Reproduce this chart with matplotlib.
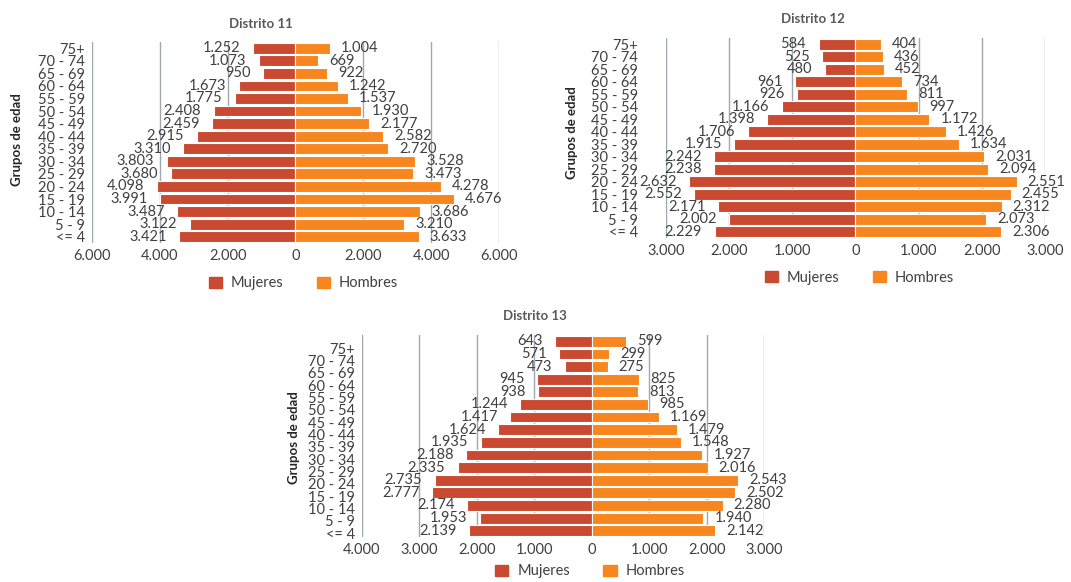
import matplotlib.pyplot as plt
import numpy as np
from matplotlib.patches import Patch
from matplotlib.ticker import FuncFormatter

# Grupos de edad (de abajo hacia arriba)
grupos = ['<= 4', '5 - 9', '10 - 14', '15 - 19', '20 - 24', '25 - 29', '30 - 34', '35 - 39',
          '40 - 44', '45 - 49', '50 - 54', '55 - 59', '60 - 64', '65 - 69', '70 - 74', '75+']

# Distrito 11
d11_mujeres = [3421, 3122, 3487, 3991, 4098, 3680, 3803, 3310, 2915, 2459, 2408, 1775, 1673, 950, 1073, 1252]
d11_hombres = [3633, 3210, 3686, 4676, 4278, 3473, 3528, 2720, 2582, 2177, 1930, 1537, 1242, 922, 669, 1004]

# Distrito 12
d12_mujeres = [2229, 2002, 2171, 2552, 2632, 2238, 2242, 1915, 1706, 1398, 1166, 926, 961, 480, 525, 584]
d12_hombres = [2306, 2073, 2312, 2455, 2551, 2094, 2031, 1634, 1426, 1172, 997, 811, 734, 452, 436, 404]

# Distrito 13
d13_mujeres = [2139, 1953, 2174, 2777, 2735, 2335, 2188, 1935, 1624, 1417, 1244, 938, 945, 473, 571, 643]
d13_hombres = [2142, 1940, 2280, 2502, 2543, 2016, 1927, 1548, 1479, 1169, 985, 813, 825, 275, 299, 599]

C_MUJ = '#C94A30'
C_HOM = '#F7861E'
TXT = '#404040'
GRID = '#9EA8B0'
FS = 10.5

plt.rcParams['font.family'] = ['Lato', 'DejaVu Sans']


def miles(v, pos=None):
    # 4000 -> "4.000", valores negativos sin signo
    return f'{abs(int(round(v))):,}'.replace(',', '.')


def piramide(ax, muj, hom, lim_izq, lim_der, paso, pad_y, leg_x, leg_y=-0.2, tick_pos=None):
    y = np.arange(len(grupos))
    muj = np.array(muj)
    hom = np.array(hom)

    ticks = np.arange(-lim_izq, lim_der + 1, paso)
    for t in ticks:
        if t != 0:
            ax.axvline(t, color=GRID, lw=1, zorder=0)

    ax.barh(y, -muj, height=0.86, color=C_MUJ, edgecolor='white', linewidth=0.8, zorder=2)
    ax.barh(y, hom, height=0.86, color=C_HOM, edgecolor='white', linewidth=0.8, zorder=2)

    for yi, m, h in zip(y, muj, hom):
        ax.annotate(miles(m), (-m, yi), xytext=(-9, 0), textcoords='offset points',
                    ha='right', va='center', fontsize=FS, color=TXT, zorder=3)
        ax.annotate(miles(h), (h, yi), xytext=(8, 0), textcoords='offset points',
                    ha='left', va='center', fontsize=FS, color=TXT, zorder=3)

    ax.set_xlim(-lim_izq, lim_der)
    ax.set_ylim(-0.5, len(grupos) - 0.5)
    ax.set_xticks(ticks)
    ax.xaxis.set_major_formatter(FuncFormatter(miles))
    ax.set_yticks(y if tick_pos is None else tick_pos)
    ax.set_yticklabels(grupos)
    ax.tick_params(axis='x', length=0, pad=4, labelsize=FS, labelcolor=TXT)
    ax.tick_params(axis='y', length=0, pad=pad_y, labelsize=FS, labelcolor=TXT)
    for s in ax.spines.values():
        s.set_visible(False)

    ax.legend(handles=[Patch(color=C_MUJ, label='Mujeres'), Patch(color=C_HOM, label='Hombres')],
              loc='center', bbox_to_anchor=(leg_x, leg_y), ncol=2, frameon=False,
              fontsize=FS, handlelength=0.9, handleheight=0.8, handletextpad=0.6,
              columnspacing=2.3, labelcolor=TXT)


fig = plt.figure(figsize=(10.71, 5.82), dpi=100)

ax11 = fig.add_axes([0.0859, 0.5825, 0.3800, 0.3454])
piramide(ax11, d11_mujeres, d11_hombres, 6000, 6000, 2000, 5, 0.52)

ax12 = fig.add_axes([0.6218, 0.5911, 0.3539, 0.3436])
piramide(ax12, d12_mujeres, d12_hombres, 3000, 3000, 1000, 20, 0.51)

ax13 = fig.add_axes([0.3380, 0.0773, 0.3754, 0.3471])
piramide(ax13, d13_mujeres, d13_hombres, 4000, 3000, 1000, 5, 0.567, leg_y=-0.17,
         tick_pos=np.linspace(-0.2, 14.46, len(grupos)))

# Títulos y etiquetas del eje y
for (tx, ty, titulo), (lx, ly) in zip([(261, 24, 'Distrito 11'), (813, 19, 'Distrito 12'), (535, 316, 'Distrito 13')],
                                      [(17, 140), (572, 133), (294, 438)]):
    fig.text(tx / 1071, 1 - ty / 582, titulo, ha='center', va='center',
             fontsize=9.5, fontweight='bold', color='#595959')
    fig.text(lx / 1071, 1 - ly / 582, 'Grupos de edad', ha='center', va='center',
             rotation=90, fontsize=9.5, fontweight='bold', color='#262626')

fig.savefig('out.png', dpi=100, facecolor='white')
